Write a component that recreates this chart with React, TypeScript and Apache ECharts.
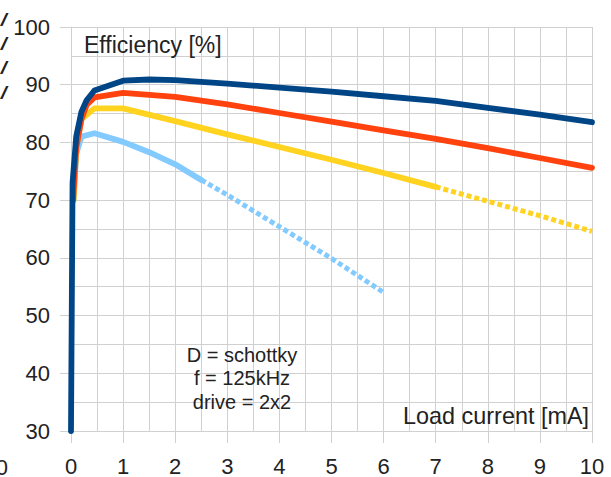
import React, { useEffect, useRef } from "react";
import * as echarts from "echarts";

const xTickLabels = ["0", "1", "2", "3", "4", "5", "6", "7", "8", "9", "10"];
const yTickLabels = ["30", "40", "50", "60", "70", "80", "90", "100"];

// Dark blue curve
const blueX = [0, 0.03, 0.1, 0.2, 0.3, 0.45, 1, 1.5, 2, 3, 4, 5, 6, 7, 8, 9, 10];
const blueY = [30, 73, 81, 85.3, 87.3, 89, 90.7, 90.9, 90.8, 90.2, 89.5, 88.8, 88.0, 87.2, 86.0, 84.8, 83.5];

// Red curve
const redX = [0.04, 0.1, 0.2, 0.3, 0.45, 1, 2, 3, 4, 5, 6, 7, 8, 9, 10];
const redY = [70, 79, 84, 86.5, 87.8, 88.6, 87.9, 86.6, 85.1, 83.6, 82.1, 80.6, 79.0, 77.3, 75.6];

// Yellow curve (measured, solid) and extrapolated (dotted)
const yellowX = [0.05, 0.1, 0.2, 0.45, 1, 2, 3, 4, 5, 6, 7];
const yellowY = [70, 79, 84, 85.9, 85.9, 83.7, 81.4, 79.2, 77.0, 74.7, 72.3];
const yellowDotX = [7, 8, 9, 10];
const yellowDotY = [72.3, 69.8, 67.3, 64.6];

// Light blue curve (measured, solid) and extrapolated (dotted)
const lightX = [0.05, 0.1, 0.2, 0.45, 1, 1.5, 2, 2.5];
const lightY = [70, 78, 81, 81.6, 80.1, 78.3, 76.2, 73.5];
const lightDotX = [2.5, 3, 4, 5, 6];
const lightDotY = [73.5, 70.9, 65.4, 59.9, 54.0];

const noteLines = ["D = schottky", "f = 125kHz", "drive = 2x2"];

const pairs = (xs: number[], ys: number[]) => xs.map((x, i) => [x, ys[i]]);

const FONT = "Liberation Sans";
const GRID = "#d0d0d0";

export default function App() {
  const ref = useRef<HTMLDivElement>(null);
  useEffect(() => {
    if (!ref.current) return;
    const chart = echarts.init(ref.current, undefined, { renderer: "svg" });
    const lineSeries = (data: number[][], color: string, dotted: boolean, z: number) => ({
      type: "line",
      data,
      symbol: "none",
      smooth: false,
      z,
      lineStyle: {
        color,
        width: dotted ? 5 : 5.8,
        type: dotted ? [5, 3] : "solid",
        join: "round",
        cap: dotted ? "butt" : "round",
      },
    });
    chart.setOption({
      animation: false,
      backgroundColor: "#ffffff",
      grid: { left: 71, right: 19, top: 27, bottom: 44 },
      xAxis: {
        type: "value",
        min: 0,
        max: 10,
        interval: 1,
        axisLine: { show: true, lineStyle: { color: GRID, width: 1 } },
        axisTick: { show: true, length: 12, lineStyle: { color: GRID } },
        axisLabel: {
          color: "#222",
          fontFamily: FONT,
          fontSize: 22,
          margin: 24,
          formatter: (v: number) => xTickLabels[Math.round(v)] ?? "",
        },
        splitLine: { show: true, lineStyle: { color: GRID, width: 1 } },
        minorTick: { show: false, splitNumber: 2 },
        minorSplitLine: { show: true, lineStyle: { color: GRID, width: 1 } },
      },
      yAxis: {
        type: "value",
        min: 30,
        max: 100,
        interval: 10,
        axisLine: { show: true, lineStyle: { color: GRID, width: 1 } },
        axisTick: { show: true, length: 11, lineStyle: { color: GRID } },
        axisLabel: {
          color: "#222",
          fontFamily: FONT,
          fontSize: 22,
          margin: 21,
          formatter: (v: number) => yTickLabels[Math.round((v - 30) / 10)] ?? "",
        },
        splitLine: { show: true, lineStyle: { color: GRID, width: 1 } },
        minorTick: { show: false, splitNumber: 2 },
        minorSplitLine: { show: true, lineStyle: { color: GRID, width: 1 } },
      },
      series: [
        lineSeries(pairs(lightDotX, lightDotY), "#83caff", true, 2),
        lineSeries(pairs(lightX, lightY), "#83caff", false, 2),
        lineSeries(pairs(yellowDotX, yellowDotY), "#ffd320", true, 3),
        lineSeries(pairs(yellowX, yellowY), "#ffd320", false, 3),
        lineSeries(pairs(redX, redY), "#ff420e", false, 4),
        lineSeries(pairs(blueX, blueY), "#004586", false, 5),
      ],
      graphic: [
        {
          type: "text",
          x: 84,
          y: 45,
          z: 10,
          style: {
            text: "Efficiency [%]",
            fontFamily: FONT,
            fontSize: 23,
            fill: "#222",
            align: "left",
            verticalAlign: "middle",
          },
        },
        {
          type: "text",
          x: 589,
          y: 416,
          z: 10,
          style: {
            text: "Load current [mA]",
            fontFamily: FONT,
            fontSize: 23.4,
            fill: "#222",
            align: "right",
            verticalAlign: "middle",
          },
        },
        {
          type: "text",
          x: 242,
          y: 378,
          z: 10,
          style: {
            text: noteLines.join("\n"),
            fontFamily: FONT,
            fontSize: 20,
            lineHeight: 23.5,
            fill: "#222",
            align: "center",
            verticalAlign: "middle",
          },
        },
        ...[20, 44, 68, 93].map((y) => ({
          type: "text",
          x: 0,
          y,
          scaleX: 1.7,
          style: {
            text: "/",
            fontFamily: FONT,
            fontSize: 18,
            fill: "#222",
            align: "left",
            verticalAlign: "middle",
          },
        })),
        {
          type: "text",
          x: 8,
          y: 467,
          style: { text: "10", fontFamily: FONT, fontSize: 22, fill: "#222", align: "right", verticalAlign: "middle" },
        },
      ],
    });
    return () => chart.dispose();
  }, []);
  return <div ref={ref} style={{ width: 611, height: 477, position: "absolute", left: 0, top: 0 }} />;
}
